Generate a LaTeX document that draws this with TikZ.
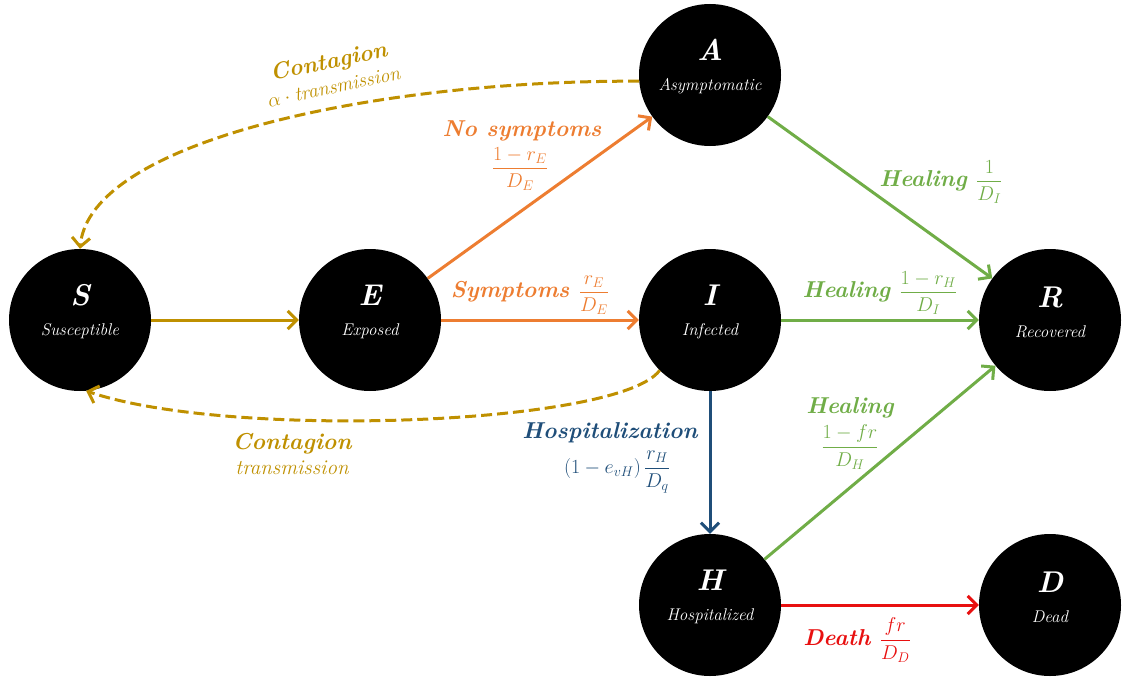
\RequirePackage{fix-cm}
\documentclass[tikz,border=0pt]{standalone}
\usepackage{amsmath}
\usepackage{fontspec}
\usetikzlibrary{arrows.meta}

\definecolor{contagion}{RGB}{191,144,0}
\definecolor{symptom}{RGB}{237,125,49}
\definecolor{healing}{RGB}{112,173,71}
\definecolor{hospital}{RGB}{31,78,121}
\definecolor{death}{RGB}{232,16,16}

\tikzset{
  compartment/.style={circle,fill=black,minimum size=142pt,inner sep=0pt},
  compname/.style={text=white,align=center,yshift=8pt,font=\fontsize{17}{30}\selectfont\itshape},
  flow/.style={line width=3pt,->},
  spread/.style={flow,dash pattern=on 11pt off 5pt},
  ratename/.style={font=\fontsize{23}{25}\selectfont\bfseries\itshape,inner sep=1pt},
  rateval/.style={font=\fontsize{20}{23}\selectfont,inner sep=1pt},
}

\newcommand{\compartmenttext}[2]{{\fontsize{30}{32}\selectfont\bfseries #1}\\#2}
\newcommand{\ratefrac}[2]{{\fontsize{20}{23}\selectfont$\dfrac{#1}{#2}$}}

\begin{document}
\begin{tikzpicture}[x=1pt,y=-1pt,>={Straight Barb[length=9pt,width=18pt]}]
    \useasboundingbox (0,0) rectangle (1122,677);

    % Draw the compartments
    \node[compartment] (S) at (80,320) {};
    \node[compartment] (E) at (370,320) {};
    \node[compartment] (I) at (710,320) {};
    \node[compartment] (A) at (710,75) {};
    \node[compartment] (R) at (1050,320) {};
    \node[compartment] (H) at (710,605) {};
    \node[compartment] (D) at (1050,605) {};

    \node[compname] (S-name) at (S) {\compartmenttext{S}{Susceptible}};
    \node[compname] (E-name) at (E) {\compartmenttext{E}{Exposed}};
    \node[compname] (I-name) at (I) {\compartmenttext{I}{Infected}};
    \node[compname] (A-name) at (A) {\compartmenttext{A}{Asymptomatic}};
    \node[compname] (R-name) at (R) {\compartmenttext{R}{Recovered}};
    \node[compname] (H-name) at (H) {\compartmenttext{H}{Hospitalized}};
    \node[compname] (D-name) at (D) {\compartmenttext{D}{Dead}};

    % Draw the flows between compartments
    \draw[flow,contagion] (S) -- (E);
    \draw[flow,symptom] (E) -- (I);
    \draw[flow,symptom] (E) -- (A);
    \draw[flow,healing] (A) -- (R);
    \draw[flow,healing] (I) -- (R);
    \draw[flow,healing] (H) -- (R);
    \draw[flow,hospital] (I) -- (H);
    \draw[flow,death] (H) -- (D);

    % Draw the contagion loops back to S
    \draw[spread,contagion] (A.185) .. controls (380,80) and (90,140) .. (S.north);
    \draw[spread,contagion] (I.225) .. controls (620,425) and (230,440) .. (S.275);

    % Label the flows
    \node[ratename,contagion,align=center,rotate=12] (top-cont) at (331,73)
        {Contagion\\{\mdseries\fontsize{20}{23}\selectfont$\alpha\cdot{}$transmission}};
    \node[ratename,contagion,align=center] (low-cont) at (292,454)
        {Contagion\\{\mdseries\fontsize{21}{23}\selectfont transmission}};

    \node[ratename,symptom] (nosym) at (522,131) {No symptoms};
    \node[rateval,symptom] (nosym-rate) at (520,169) {$\dfrac{1-r_E}{D_E}$};
    \node[ratename,symptom] (sym) at (530,295) {Symptoms \ratefrac{r_E}{D_E}};

    \node[ratename,healing] (heal-A) at (941,182) {Healing \ratefrac{1}{D_I}};
    \node[ratename,healing] (heal-I) at (880,293) {Healing \ratefrac{1-r_H}{D_I}};
    \node[ratename,healing] (heal-H) at (850,408) {Healing};
    \node[rateval,healing] (heal-H-rate) at (850,447) {$\dfrac{1-fr}{D_H}$};

    \node[ratename,hospital] (hosp) at (610,433) {Hospitalization};
    \node[rateval,hospital] (hosp-rate) at (617,472) {$(1-e_{vH})\,\dfrac{r_H}{D_q}$};

    \node[ratename,death] (death) at (857,640) {Death \ratefrac{fr}{D_D}};
\end{tikzpicture}
\end{document}
